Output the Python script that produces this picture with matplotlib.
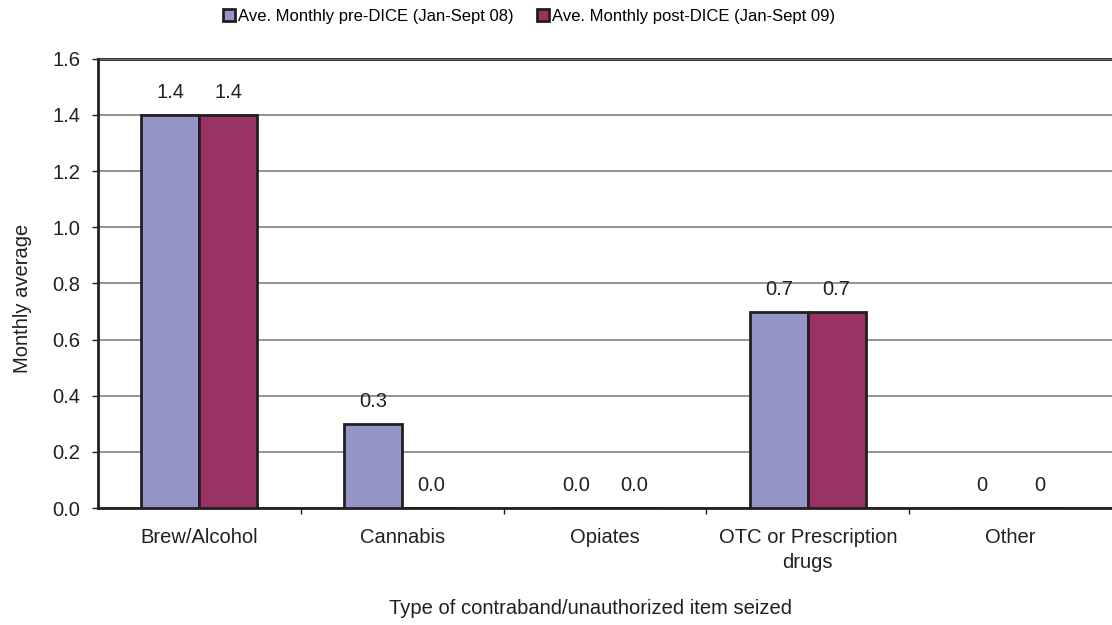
import numpy as np
import matplotlib.pyplot as plt

categories = ['Brew/Alcohol', 'Cannabis', 'Opiates', 'OTC or Prescription\ndrugs', 'Other']
pre_dice = [1.4, 0.3, 0.0, 0.7, 0.0]
post_dice = [1.4, 0.0, 0.0, 0.7, 0.0]
pre_labels = ['1.4', '0.3', '0.0', '0.7', '0']
post_labels = ['1.4', '0.0', '0.0', '0.7', '0']

plt.rcParams['font.family'] = ['Liberation Sans', 'DejaVu Sans']
ink = '#231f20'
fs = 14.5

fig = plt.figure(figsize=(11.12, 6.25), dpi=100)
ax = fig.add_axes([0.088, 0.187, 0.912, 0.719])

x = np.arange(len(categories))
w = 0.285
b1 = ax.bar(x - w / 2, pre_dice, w, color='#9595c8', edgecolor=ink, linewidth=2,
            label='Ave. Monthly pre-DICE (Jan-Sept 08)', zorder=3)
b2 = ax.bar(x + w / 2, post_dice, w, color='#993366', edgecolor=ink, linewidth=2,
            label='Ave. Monthly post-DICE (Jan-Sept 09)', zorder=3)

# value labels above each bar
for bars, labs in ((b1, pre_labels), (b2, post_labels)):
    for rect, lab in zip(bars, labs):
        ax.text(rect.get_x() + rect.get_width() / 2, rect.get_height() + 0.06, lab,
                ha='center', va='baseline', fontsize=fs, color=ink)

ax.set_xlim(-0.5, 4.5)
ax.set_ylim(0, 1.6)
yt = np.arange(0, 1.61, 0.2)
ax.set_yticks(yt)
ax.set_yticklabels([f'{v:.1f}' for v in yt])
ax.grid(axis='y', color='#808080', linewidth=1.2, zorder=0)
ax.axhline(1.6, color=ink, linewidth=2, zorder=1, clip_on=False)

ax.set_xticks(x)
ax.set_xticklabels(categories, linespacing=1.45)
ax.set_xticks(np.arange(0.5, 4.0, 1.0), minor=True)
ax.tick_params(axis='x', which='major', length=0, pad=14, labelsize=fs, colors=ink)
ax.tick_params(axis='x', which='minor', length=4.5, width=1, color=ink, direction='out')
ax.tick_params(axis='y', length=4.5, width=1, labelsize=fs, colors=ink, pad=8)

for s in ['top', 'right']:
    ax.spines[s].set_visible(False)
for s in ['left', 'bottom']:
    ax.spines[s].set_linewidth(2)
    ax.spines[s].set_color(ink)

fig.text(0.02, 0.523, 'Monthly average', rotation=90, ha='center', va='center',
         fontsize=fs, color=ink)
fig.text(0.531, 0.027, 'Type of contraband/unauthorized item seized',
         ha='center', va='center', fontsize=fs, color=ink)

fig.legend(handles=[b1, b2], loc='center', bbox_to_anchor=(0.476, 0.974), ncol=2,
           frameon=False, fontsize=12, handlelength=0.7, handleheight=0.7,
           handletextpad=0.2, columnspacing=1.4)

fig.savefig('out.png', dpi=100)
